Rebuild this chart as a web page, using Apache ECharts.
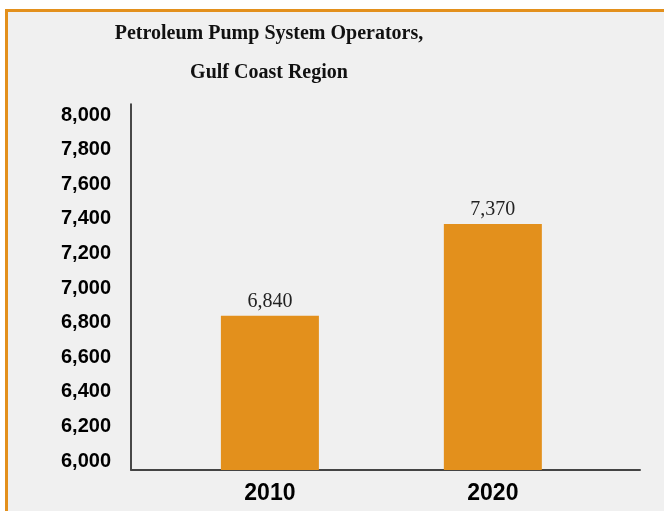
<!DOCTYPE html>
<html>
<head>
<meta charset="utf-8">
<script src="https://cdn.jsdelivr.net/npm/echarts@6/dist/echarts.min.js"></script>
<style>
  html, body { margin: 0; padding: 0; background: #ffffff; overflow: hidden; }
  #frame { position: absolute; left: 5px; top: 9px; width: 700px; height: 560px;
           border: 3px solid #E3901C; background: #f0f0f0; box-sizing: border-box; }
  #chart { position: absolute; left: 0; top: 0; width: 664px; height: 511px; }
</style>
</head>
<body>
<div id="frame"></div>
<div id="chart"></div>
<script>
const titleLines = ['Petroleum Pump System Operators,', 'Gulf Coast Region'];
const years = [2010, 2020];
const operators = [6840, 7370];
const yTickLabels = [6000, 6200, 6400, 6600, 6800, 7000, 7200, 7400, 7600, 7800, 8000];

const fmt = v => Math.round(v).toString().replace(/\B(?=(\d{3})+(?!\d))/g, ',');

const chart = echarts.init(document.getElementById('chart'), null, { renderer: 'canvas' });
chart.setOption({
  backgroundColor: 'transparent',
  animation: false,
  title: {
    text: titleLines.join('\n'),
    left: 269,
    top: 14,
    padding: 0,
    textAlign: 'center',
    textStyle: {
      fontFamily: 'Liberation Serif',
      fontWeight: 'bold',
      fontSize: 20,
      lineHeight: 39,
      color: '#111'
    }
  },
  grid: { left: 131, right: 24, top: 104, bottom: 41, containLabel: false },
  xAxis: {
    type: 'value',
    min: 2003.77,
    max: 2026.6,
    splitLine: { show: false },
    axisTick: { show: false },
    axisLine: { show: true, lineStyle: { color: '#444', width: 2 } },
    axisLabel: {
      customValues: years,
      formatter: v => String(v),
      margin: 12,
      fontFamily: 'Liberation Sans',
      fontWeight: 'bold',
      fontSize: 23,
      color: '#000'
    }
  },
  yAxis: {
    type: 'value',
    min: 5948,
    max: 8064,
    splitLine: { show: false },
    axisTick: { show: false },
    axisLine: { show: true, lineStyle: { color: '#111', width: 1.5 } },
    axisLabel: {
      customValues: yTickLabels,
      formatter: v => fmt(v),
      margin: 20,
      fontFamily: 'Liberation Sans',
      fontWeight: 'bold',
      fontSize: 20,
      color: '#000'
    }
  },
  series: [{
    type: 'bar',
    data: years.map((y, i) => [y, operators[i]]),
    barWidth: 98,
    itemStyle: { color: '#E3901C' },
    label: {
      show: true,
      position: 'top',
      distance: 4,
      formatter: p => fmt(p.value[1]),
      fontFamily: 'Liberation Serif',
      fontSize: 20,
      color: '#222'
    }
  }]
});
</script>
</body>
</html>
